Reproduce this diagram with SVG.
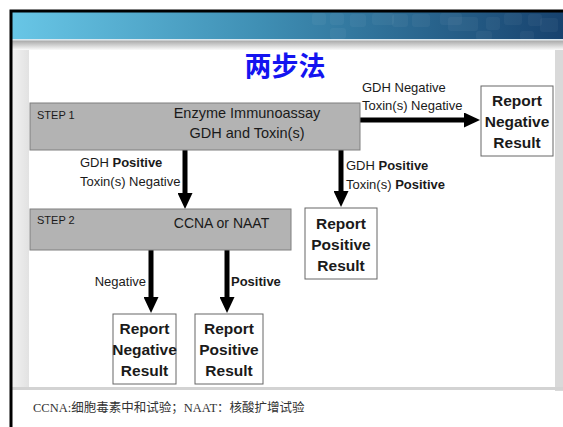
<svg xmlns="http://www.w3.org/2000/svg" width="563" height="427" viewBox="0 0 563 427">
<defs>
<linearGradient id="banner" x1="0" y1="0" x2="1" y2="0">
<stop offset="0" stop-color="#68c6e6"/>
<stop offset="0.45" stop-color="#3f8fb4"/>
<stop offset="1" stop-color="#17426e"/>
</linearGradient>
<linearGradient id="shadow" x1="0" y1="0" x2="0" y2="1">
<stop offset="0" stop-color="#a8a8a8"/>
<stop offset="1" stop-color="#ffffff"/>
</linearGradient>
<linearGradient id="lstrip" x1="0" y1="0" x2="1" y2="0">
<stop offset="0" stop-color="#f2f2f2"/>
<stop offset="1" stop-color="#e2e2e2"/>
</linearGradient>
<marker id="ah" markerUnits="userSpaceOnUse" markerWidth="17" markerHeight="15" refX="2" refY="7.5" orient="auto">
<path d="M0,0 L16,7.5 L0,15 z" fill="#000"/>
</marker>
<style>
.sans{font-family:"Liberation Sans",Arial,sans-serif;fill:#1a1a1a}
.lbl{font-size:13px}
.step{fill:#b3b3b3;stroke:#7f7f7f;stroke-width:1}
.res{fill:#fff;stroke:#666;stroke-width:1}
.rt{font-size:15.5px;font-weight:bold;text-anchor:middle}
.conn{stroke:#000;stroke-width:5;fill:none;marker-end:url(#ah)}
.tile{fill:#ffffff;fill-opacity:0.045}
</style>
</defs>
<rect x="0" y="0" width="563" height="427" fill="#fff"/>
<!-- slide frame -->
<rect x="12" y="12" width="551" height="28" fill="url(#banner)"/>
<g>
<rect class="tile" x="312" y="13" width="14" height="12" rx="3"/>
<rect class="tile" x="330" y="13" width="14" height="12" rx="3"/>
<rect class="tile" x="350" y="14" width="16" height="13" rx="3"/>
<rect class="tile" x="372" y="13" width="22" height="12" rx="3"/>
<rect class="tile" x="392" y="14" width="16" height="13" rx="3"/>
<rect class="tile" x="412" y="14" width="18" height="13" rx="3"/>
<rect class="tile" x="440" y="13" width="22" height="12" rx="3"/>
<rect class="tile" x="448" y="17" width="30" height="14" rx="3"/>
<rect class="tile" x="486" y="17" width="14" height="13" rx="3"/>
<rect class="tile" x="504" y="13" width="18" height="12" rx="3"/>
<rect class="tile" x="528" y="14" width="14" height="12" rx="3"/>
<rect class="tile" x="540" y="18" width="18" height="14" rx="3"/>
<rect class="tile" x="330" y="28" width="16" height="11" rx="3"/>
<rect class="tile" x="476" y="31" width="16" height="9" rx="3"/>
<rect class="tile" x="520" y="31" width="14" height="9" rx="3"/>
</g>
<rect x="12" y="39" width="551" height="1.5" fill="#d8e6ee"/>
<rect x="12" y="40.5" width="551" height="10" fill="url(#shadow)"/>
<rect x="12" y="50" width="17" height="337" fill="url(#lstrip)"/>
<rect x="555" y="50" width="8" height="341" fill="#d9d9d9"/>
<rect x="12" y="387" width="551" height="3" fill="#d3d3d3"/>
<path d="M11,427 V11 H563" fill="none" stroke="#000" stroke-width="3"/>

<text x="285" y="76" font-family="'Liberation Sans','Noto Sans CJK SC',sans-serif" font-size="27" font-weight="bold" fill="#1414f0" text-anchor="middle">两步法</text>

<g id="connectors">
<line class="conn" x1="360" y1="120" x2="466" y2="120"/>
<line class="conn" x1="185" y1="150" x2="185" y2="195"/>
<line class="conn" x1="341" y1="150" x2="341" y2="193"/>
<line class="conn" x1="151" y1="250" x2="151" y2="299"/>
<line class="conn" x1="227" y1="250" x2="227" y2="299"/>
<text class="sans lbl" x="362" y="92">GDH Negative</text>
<text class="sans lbl" x="362" y="110">Toxin(s) Negative</text>
<text class="sans lbl" x="80" y="167">GDH <tspan font-weight="bold">Positive</tspan></text>
<text class="sans lbl" x="80" y="186">Toxin(s) Negative</text>
<text class="sans lbl" x="346" y="170">GDH <tspan font-weight="bold">Positive</tspan></text>
<text class="sans lbl" x="346" y="189">Toxin(s) <tspan font-weight="bold">Positive</tspan></text>
<text class="sans lbl" x="146" y="286" text-anchor="end">Negative</text>
<text class="sans lbl" x="231" y="286" font-weight="bold">Positive</text>
</g>

<g id="step1">
<rect class="step" x="30" y="103" width="330" height="47"/>
<text class="sans" x="37" y="119" font-size="11">STEP 1</text>
<text class="sans" x="247" y="118" font-size="14.5" text-anchor="middle">Enzyme Immunoassay</text>
<text class="sans" x="247" y="138" font-size="14.5" text-anchor="middle">GDH and Toxin(s)</text>
</g>

<g id="step2">
<rect class="step" x="30" y="209" width="261" height="41"/>
<text class="sans" x="37" y="224" font-size="11">STEP 2</text>
<text class="sans" x="221.5" y="228" font-size="14" text-anchor="middle">CCNA or NAAT</text>
</g>

<g id="neg1">
<rect class="res" x="481" y="86" width="72" height="70"/>
<text class="sans rt" x="517" y="106">Report</text>
<text class="sans rt" x="517" y="127">Negative</text>
<text class="sans rt" x="517" y="148">Result</text>
</g>

<g id="pos1">
<rect class="res" x="305" y="208" width="72" height="71"/>
<text class="sans rt" x="341" y="229">Report</text>
<text class="sans rt" x="341" y="250">Positive</text>
<text class="sans rt" x="341" y="271">Result</text>
</g>

<g id="neg2">
<rect class="res" x="113" y="314" width="63" height="70"/>
<text class="sans rt" x="144.5" y="334">Report</text>
<text class="sans rt" x="144.5" y="355">Negative</text>
<text class="sans rt" x="144.5" y="376">Result</text>
</g>

<g id="pos2">
<rect class="res" x="195" y="314" width="68" height="70"/>
<text class="sans rt" x="229" y="334">Report</text>
<text class="sans rt" x="229" y="355">Positive</text>
<text class="sans rt" x="229" y="376">Result</text>
</g>

<text x="33" y="412" font-family="'Liberation Serif','Noto Sans CJK SC',serif" font-size="12.5" fill="#333">CCNA:细胞毒素中和试验；NAAT：核酸扩增试验</text>
</svg>
